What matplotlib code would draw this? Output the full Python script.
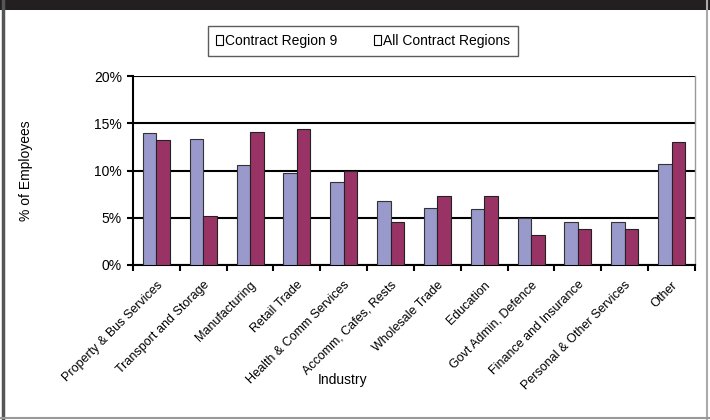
import numpy as np
import matplotlib.pyplot as plt
from matplotlib.patches import Rectangle, Patch
from matplotlib.ticker import FixedLocator, PercentFormatter

plt.rcParams['font.family'] = ['Liberation Sans', 'DejaVu Sans']

# ----------------------------
# Data
# ----------------------------
industries = [
    "Property & Bus Services", "Transport and Storage", "Manufacturing",
    "Retail Trade", "Health & Comm Services", "Accomm, Cafes, Rests",
    "Wholesale Trade", "Education", "Govt Admin, Defence",
    "Finance and Insurance", "Personal & Other Services", "Other",
]
region9 = [14.0, 13.3, 10.6, 9.7, 8.8, 6.8, 6.0, 5.9, 5.0, 4.6, 4.5, 10.7]
all_regions = [13.2, 5.2, 14.1, 14.4, 10.0, 4.5, 7.25, 7.25, 3.2, 3.8, 3.8, 13.0]
series_names = ["Contract Region 9", "All Contract Regions"]

COL_R9 = "#9999cc"
COL_ALL = "#993366"

# ----------------------------
# Figure
# ----------------------------
fig = plt.figure(figsize=(7.1, 4.2), dpi=100)

# frame: dark band on top, grey border lines
fig.patches.append(Rectangle((0, 1 - 10 / 420), 1, 10 / 420, transform=fig.transFigure,
                             facecolor="#231f20", edgecolor="none", zorder=0))
fig.add_artist(plt.Line2D([3 / 710, 3 / 710], [0, 1], transform=fig.transFigure,
                          color="#555555", lw=2.5))
fig.add_artist(plt.Line2D([707 / 710, 707 / 710], [0, 1], transform=fig.transFigure,
                          color="#aaaaaa", lw=1.5))
fig.add_artist(plt.Line2D([0, 1], [2.5 / 420, 2.5 / 420], transform=fig.transFigure,
                          color="#999999", lw=1.5))

ax = fig.add_axes([133 / 710, 1 - 265 / 420, (695 - 133) / 710, (265 - 76) / 420])

x = np.arange(len(industries))
w = 0.29
ax.bar(x - w / 2, region9, w, color=COL_R9, edgecolor="#333333", linewidth=0.8, zorder=3)
ax.bar(x + w / 2, all_regions, w, color=COL_ALL, edgecolor="#222222", linewidth=0.8, zorder=3)

ax.set_xlim(-0.5, len(industries) - 0.5)
ax.set_ylim(0, 20)
ax.set_yticks([0, 5, 10, 15, 20])
ax.yaxis.set_major_formatter(PercentFormatter(decimals=0))
ax.grid(axis="y", color="black", linewidth=1.5, zorder=1)
ax.set_axisbelow(True)

ax.set_xticks(x)
ax.set_xticklabels(industries, rotation=45, ha="right", rotation_mode="anchor", fontsize=9)
ax.tick_params(axis="x", which="major", length=0, pad=10)
ax.xaxis.set_minor_locator(FixedLocator(np.arange(-0.5, len(industries), 1)))
ax.tick_params(axis="x", which="minor", length=4, width=1.5, direction="out")
ax.tick_params(axis="y", length=4, width=1.5, labelsize=10, pad=4)

for side in ["left", "bottom"]:
    ax.spines[side].set_linewidth(1.5)
ax.spines["top"].set_visible(False)
ax.spines["right"].set_color("#999999")
ax.spines["right"].set_linewidth(1.0)

fig.text(26 / 710, 1 - 171 / 420, "% of Employees", rotation=90, ha="center", va="center", fontsize=10)
fig.text(343 / 710, 1 - 380 / 420, "Industry", ha="center", va="center", fontsize=10)

handles = [Patch(facecolor="white", edgecolor="black", linewidth=0.8) for _ in series_names]
leg = fig.legend(handles, series_names, loc="center", bbox_to_anchor=(363 / 710, 1 - 41 / 420),
                 ncol=2, frameon=True, fancybox=False, edgecolor="#333333", fontsize=10,
                 handlelength=0.5, handleheight=0.7, handletextpad=0.2, columnspacing=2.6,
                 borderpad=0.55, borderaxespad=0)
leg.get_frame().set_linewidth(1.0)
leg.set_zorder(10)

fig.savefig("out.png", dpi=100)
